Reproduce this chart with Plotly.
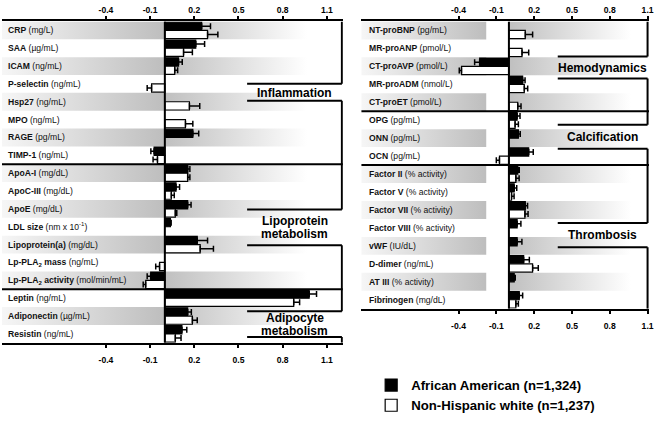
import plotly.graph_objects as go

W, H = 661, 421
FONT = "Liberation Sans, Arial, sans-serif"

# ---------------- data ----------------
tick_vals = [-0.4, -0.1, 0.2, 0.5, 0.8, 1.1]
tick_text = ["-0.4", "-0.1", "0.2", "0.5", "0.8", "1.1"]

series_names = ["African American (n=1,324)", "Non-Hispanic white (n=1,237)"]

left_labels = [
    "<b>CRP</b> (mg/L)", "<b>SAA</b> (µg/mL)", "<b>ICAM</b> (ng/mL)", "<b>P-selectin</b> (ng/mL)",
    "<b>Hsp27</b> (ng/mL)", "<b>MPO</b> (ng/mL)", "<b>RAGE</b> (pg/mL)", "<b>TIMP-1</b> (ng/mL)",
    "<b>ApoA-I</b> (mg/dL)", "<b>ApoC-III</b> (mg/dL)", "<b>ApoE</b> (mg/dL)",
    "<b>LDL size</b> (nm x 10<sup>-1</sup>)", "<b>Lipoprotein(a)</b> (mg/dL)",
    "<b>Lp-PLA<sub>2</sub> mass</b> (ng/mL)", "<b>Lp-PLA<sub>2</sub> activity</b> (mol/min/mL)",
    "<b>Leptin</b> (ng/mL)", "<b>Adiponectin</b> (µg/mL)", "<b>Resistin</b> (ng/mL)"]
left_aa = [0.25, 0.21, 0.093, None, None, None, 0.19, -0.073, 0.155, 0.076, 0.155, 0.038,
           0.22, None, -0.096, 0.98, 0.155, 0.116]
left_aa_se = [0.06, 0.06, 0.025, None, None, None, 0.04, 0.022, 0.015, 0.024, 0.023, 0.005,
              0.07, None, 0.024, 0.05, 0.025, 0.033]
left_nhw = [0.29, 0.127, 0.067, -0.09, 0.167, 0.14, None, -0.05, 0.155, 0.044, 0.071, None,
            0.24, -0.036, -0.13, 0.875, 0.187, 0.071]
left_nhw_se = [0.07, 0.06, 0.02, 0.03, 0.07, 0.05, None, 0.03, 0.015, 0.02, 0.01, None,
               0.09, 0.026, 0.017, 0.04, 0.033, 0.039]
left_groups = [["Inflammation"], ["Lipoprotein", "metabolism"], ["Adipocyte", "metabolism"]]
left_group_sizes = [8, 7, 3]

right_labels = [
    "<b>NT-proBNP</b> (pg/mL)", "<b>MR-proANP</b> (pmol/L)", "<b>CT-proAVP</b> (pmol/L)",
    "<b>MR-proADM</b> (nmol/L)", "<b>CT-proET</b> (pmol/L)", "<b>OPG</b> (pg/mL)",
    "<b>ONN</b> (pg/mL)", "<b>OCN</b> (pg/mL)", "<b>Factor II</b> (% activity)",
    "<b>Factor V</b> (% activity)", "<b>Factor VII</b> (% activity)", "<b>Factor VIII</b> (% activity)",
    "<b>vWF</b> (IU/dL)", "<b>D-dimer</b> (ng/mL)", "<b>AT III</b> (% activity)", "<b>Fibrinogen</b> (mg/dL)"]
right_aa = [None, None, -0.232, 0.109, None, 0.065, 0.075, 0.157, 0.07, 0.042, 0.13, 0.065,
            0.065, 0.117, 0.042, 0.082]
right_aa_se = [None, None, 0.04, 0.019, None, 0.023, 0.015, 0.036, 0.012, 0.02, 0.018, 0.03,
               0.038, 0.045, 0.008, 0.027]
right_nhw = [0.13, 0.104, -0.376, 0.122, 0.07, 0.049, None, -0.075, 0.055, 0.021, 0.127, None,
             None, 0.188, None, 0.055]
right_nhw_se = [0.058, 0.053, 0.018, 0.027, 0.026, 0.026, None, 0.025, 0.026, 0.02, 0.025, None,
                None, 0.045, None, 0.02]
right_groups = [["Hemodynamics"], ["Calcification"], ["Thrombosis"]]
right_group_sizes = [5, 3, 8]

# ---------------- geometry (pixels) ----------------
L = dict(px0=2, px1=345.5, zero=166.1, scale=148.4, top=22, bot=352,
         band_left_end=0.0, bracket_px=344.5, notch_px=249,
         notch_py=[(86, 103.5), (215, 251.7), (319.5, 346)],
         label_py=[[95.5], [226.5, 240.0], [326.5, 340.0]], label_x=6)
R = dict(px0=364, px1=654, zero=512.8, scale=127.0, top=22, bot=317,
         band_left_end=-0.18, bracket_px=652.5, notch_px=562,
         notch_py=[(58, 80.7), (128, 152.7), (229, 254)],
         label_py=[[69.5], [140.5], [241.7]], label_x=370)


def px2x(P, px):
    return (px - P["zero"]) / P["scale"]


def py2y(P, n, py):
    rowh = (P["bot"] - P["top"]) / n
    return (py - P["top"]) / rowh - 0.5


def plus(v, s):
    return [(e if (x is not None and x >= 0) else 0) if e is not None else 0 for x, e in zip(v, s)]


def minus(v, s):
    return [(e if (x is not None and x < 0) else 0) if e is not None else 0 for x, e in zip(v, s)]


fig = go.Figure()
shapes = []
annotations = []

panels = [
    (L, left_labels, left_aa, left_aa_se, left_nhw, left_nhw_se, left_groups, left_group_sizes,
     "x", "y", "x3", True),
    (R, right_labels, right_aa, right_aa_se, right_nhw, right_nhw_se, right_groups, right_group_sizes,
     "x2", "y2", "x4", False),
]

for (P, labels, aa, aa_se, nhw, nhw_se, groups, sizes, xa, ya, xtop, showleg) in panels:
    n = len(labels)
    xmin = px2x(P, P["px0"])
    xmax = px2x(P, P["px1"])
    ypos = list(range(n))
    # gradient bands (even rows)
    lx, ly, rx, ry = [], [], [], []
    for i in ypos[::2]:
        x0, x1 = xmin, P["band_left_end"]
        lx += [x0, x1, x1, x0, x0, None]
        ly += [i - 0.5, i - 0.5, i + 0.5, i + 0.5, i - 0.5, None]
        rx += [0, xmax, xmax, 0, 0, None]
        ry += [i - 0.5, i - 0.5, i + 0.5, i + 0.5, i - 0.5, None]
    fig.add_trace(go.Scatter(x=lx, y=ly, xaxis=xa, yaxis=ya, mode="lines", fill="toself",
                             line=dict(width=0, color="rgba(0,0,0,0)"),
                             fillgradient=dict(type="horizontal", start=xmin, stop=P["band_left_end"],
                                               colorscale=[[0, "#f6f6f6"], [1, "#bdbdbd"]]),
                             showlegend=False, hoverinfo="skip"))
    fig.add_trace(go.Scatter(x=rx, y=ry, xaxis=xa, yaxis=ya, mode="lines", fill="toself",
                             line=dict(width=0, color="rgba(0,0,0,0)"),
                             fillgradient=dict(type="horizontal", start=0, stop=0.95,
                                               colorscale=[[0, "#c0c0c0"], [1, "#ffffff"]]),
                             showlegend=False, hoverinfo="skip"))
    # bars
    for vals, se, col, name in [(aa, aa_se, "black", series_names[0]),
                                (nhw, nhw_se, "white", series_names[1])]:
        fig.add_trace(go.Bar(
            x=vals, y=ypos, orientation="h", xaxis=xtop, yaxis=ya, name=name,
            marker=dict(color=col, line=dict(color="black", width=1.2)),
            error_x=dict(type="data", symmetric=False, array=plus(vals, se),
                         arrayminus=minus(vals, se), color="black", thickness=1.5, width=3),
            showlegend=showleg, hoverinfo="skip"))
    # category labels
    for i, lab in enumerate(labels):
        annotations.append(dict(x=P["label_x"] / W, xref="paper", y=i, yref=ya, text=lab,
                                xanchor="left", yanchor="middle", showarrow=False,
                                font=dict(family=FONT, size=8.6, color="#111")))
    # zero line
    shapes.append(dict(type="line", xref=xa, yref=ya, x0=0, x1=0, y0=-0.5, y1=n - 0.5,
                       line=dict(color="black", width=2)))
    # group boundaries
    cum = 0
    for s in sizes[:-1]:
        cum += s
        shapes.append(dict(type="line", xref=xa, yref=ya, x0=xmin, x1=xmax, y0=cum - 0.5,
                           y1=cum - 0.5, line=dict(color="black", width=2)))
    # right brackets with notches for group labels
    xb = px2x(P, P["bracket_px"])
    xn = px2x(P, P["notch_px"])
    ys = [-0.5]
    for (a, b) in P["notch_py"]:
        ya_, yb_ = py2y(P, n, a), py2y(P, n, b)
        ys += [ya_, yb_]
        for yy in (ya_, yb_):
            shapes.append(dict(type="line", xref=xa, yref=ya, x0=xn, x1=xb, y0=yy, y1=yy,
                               line=dict(color="black", width=2)))
    ys.append(n - 0.5)
    for k in range(0, len(ys), 2):
        shapes.append(dict(type="line", xref=xa, yref=ya, x0=xb, x1=xb, y0=ys[k], y1=ys[k + 1],
                           line=dict(color="black", width=2)))
    # group labels (one annotation per text line, tight leading as in the reference)
    xc = (xn + xb) / 2
    for lines, pys in zip(groups, P["label_py"]):
        for t, py in zip(lines, pys):
            annotations.append(dict(x=xc, xref=xa, y=py2y(P, n, py), yref=ya, text="<b>" + t + "</b>",
                                    xanchor="center", yanchor="middle", showarrow=False,
                                    borderpad=0, font=dict(family=FONT, size=12, color="black")))


def xaxis_cfg(P, side, anchor, overlay=None):
    d = dict(domain=[P["px0"] / W, P["px1"] / W],
             range=[px2x(P, P["px0"]), px2x(P, P["px1"])],
             anchor=anchor, side=side, tickmode="array", tickvals=tick_vals, ticktext=tick_text,
             ticks="outside", ticklen=3, tickwidth=2, tickcolor="black",
             showline=True, linewidth=2, linecolor="black", showgrid=False, zeroline=False,
             tickfont=dict(family=FONT, size=8.6, color="black", weight="bold"), fixedrange=True)
    if overlay:
        d["overlaying"] = overlay
    else:
        d["ticklabelstandoff"] = 5
    return d


def yaxis_cfg(P, n, anchor):
    return dict(domain=[1 - P["bot"] / H, 1 - P["top"] / H], range=[n - 0.5, -0.5],
                anchor=anchor, showticklabels=False, showgrid=False, zeroline=False,
                showline=False, ticks="", fixedrange=True)


fig.update_layout(
    width=W, height=H, margin=dict(l=0, r=0, t=0, b=0),
    paper_bgcolor="white", plot_bgcolor="rgba(0,0,0,0)",
    barmode="group", bargap=0.08, bargroupgap=0,
    xaxis=xaxis_cfg(L, "bottom", "y"),
    xaxis3=xaxis_cfg(L, "top", "y", overlay="x"),
    yaxis=yaxis_cfg(L, len(left_labels), "x"),
    xaxis2=xaxis_cfg(R, "bottom", "y2"),
    xaxis4=xaxis_cfg(R, "top", "y2", overlay="x2"),
    yaxis2=yaxis_cfg(R, len(right_labels), "x2"),
    shapes=shapes, annotations=annotations,
    showlegend=True,
    legend=dict(x=374 / W, y=1 - 380 / H, xanchor="left", yanchor="top",
                font=dict(family=FONT, size=13.2, color="black", weight="bold"),
                bgcolor="rgba(0,0,0,0)", tracegroupgap=0, itemwidth=30),
)

fig.write_html("out.html", config={"displayModeBar": False, "staticPlot": True},
               post_script="document.body.style.margin='0';document.body.style.overflow='hidden';")
